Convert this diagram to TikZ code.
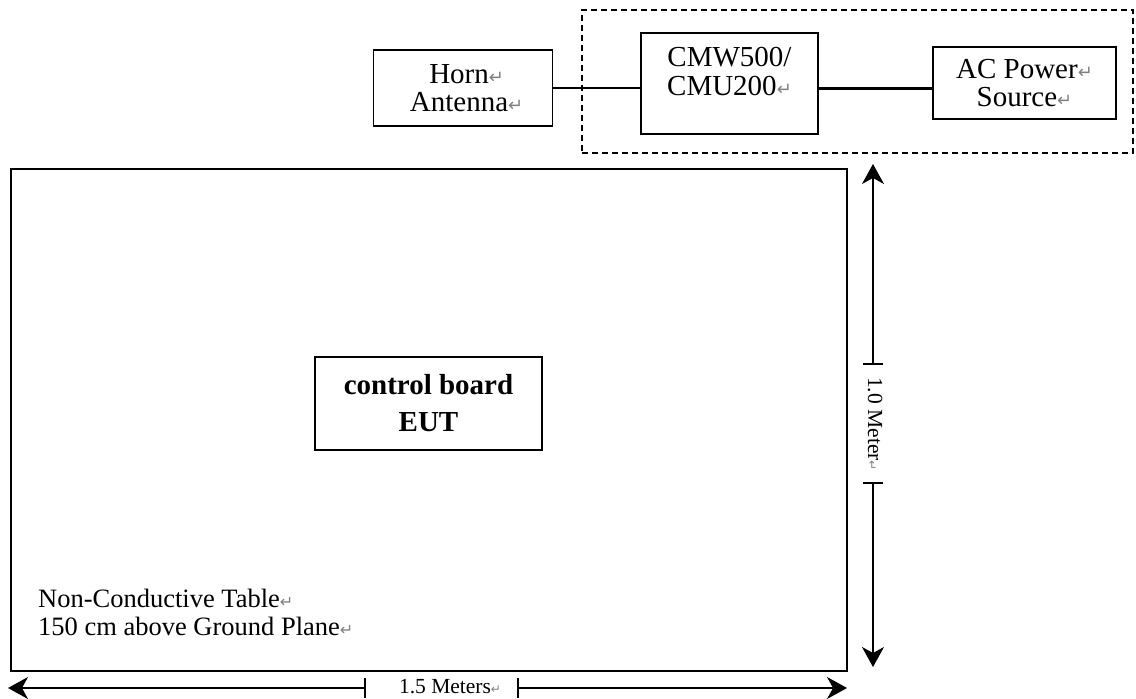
\documentclass[tikz,border=0pt]{standalone}
\usepackage{fontspec}
\setmainfont{Liberation Serif}
\newfontfamily\retfont{DejaVu Sans}
\usetikzlibrary{arrows.meta,positioning}
\newcommand{\pmark}[1][18]{{\retfont\fontsize{#1}{#1}\selectfont\textcolor{gray}{↵}}}

\begin{document}
\begin{tikzpicture}[x=1pt,y=-1pt,
    font=\fontsize{29}{27.5}\selectfont,
    box/.style={draw, line width=1.3pt, inner sep=0pt, align=center},
    dim/.style={line width=1.3pt, -{Stealth[length=20pt,width=22pt,inset=6pt]}},
    tick/.style={line width=1.6pt}]
    \useasboundingbox (0,0) rectangle (1136,699);
    % table and equipment
    \node[box, line width=2.6pt, minimum width=836pt, minimum height=502pt] (table) at (429,420) {};
    \node[box, dashed, dash pattern=on 6pt off 4pt, minimum width=551pt, minimum height=143pt] (tester) at (857.5,81.5) {};
    \node[box, minimum width=179pt, minimum height=76pt] (horn) at (463,88) {
        \ Horn\pmark\\\ Antenna\pmark
    };
    \node[box, minimum width=177pt, minimum height=101pt] (cmw) at (729.5,83.5) {};
    \node[align=center, below=11pt of cmw.north, font=\fontsize{29}{29.5}\selectfont] (cmwtext) {
        CMW500/\\CMU200\pmark
    };
    \node[box, minimum width=183pt, minimum height=72pt] (ac) at (1024.5,83) {
        AC Power\pmark\\Source\pmark
    };
    \node[box, minimum width=227pt, minimum height=93pt, font=\fontsize{29}{37}\selectfont\bfseries] (eut) at (428.5,403.5) {
        control board\\EUT
    };
    \node[anchor=north west, align=left, inner sep=0pt, font=\fontsize{26.5}{28}\selectfont] (tabletext) at (38,589) {
        Non-Conductive Table\pmark[16]\\150 cm above Ground Plane\pmark[16]
    };
    \draw[line width=1.3pt] (horn.east) -- (horn.east -| cmw.west);
    \draw[line width=3pt] (cmw.east |- horn.east) -- (ac.west |- horn.east);
    % dimensions
    \coordinate (hleft) at (8,688);
    \coordinate (hright) at (847,688);
    \coordinate (hgapl) at (365,688);
    \coordinate (hgapr) at (518,688);
    \coordinate (vtop) at (873,164);
    \coordinate (vbottom) at (873,667);
    \coordinate (vgapt) at (873,364);
    \coordinate (vgapb) at (873,483);
    \node[font=\fontsize{21.5}{21.5}\selectfont] (hlabel) at (450,687) {1.5 Meters\pmark[12]};
    \node[font=\fontsize{21.5}{21.5}\selectfont, rotate=-90] (vlabel) at (875,424) {1.0 Meter\pmark[12]};
    \draw[dim] (hgapl) -- (hleft);
    \draw[dim] (hgapr) -- (hright);
    \draw[dim] (vgapt) -- (vtop);
    \draw[dim] (vgapb) -- (vbottom);
    \draw[tick] ([yshift=10pt]hgapl) -- ([yshift=-10pt]hgapl);
    \draw[tick] ([yshift=10pt]hgapr) -- ([yshift=-10pt]hgapr);
    \draw[tick] ([xshift=-10pt]vgapt) -- ([xshift=10pt]vgapt);
    \draw[tick] ([xshift=-10pt]vgapb) -- ([xshift=10pt]vgapb);
\end{tikzpicture}
\end{document}
